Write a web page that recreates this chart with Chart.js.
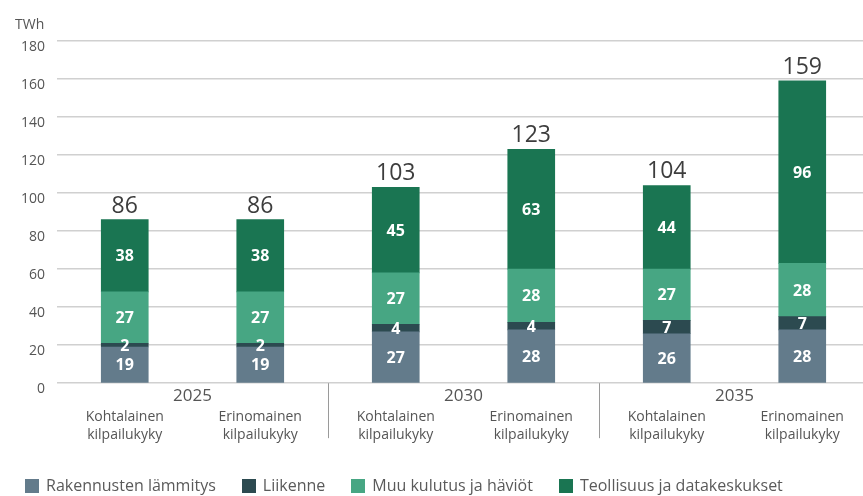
<!DOCTYPE html>
<html>
<head>
<meta charset="utf-8">
<script src="https://cdn.jsdelivr.net/npm/chart.js@4/dist/chart.umd.min.js"></script>
<style>
  body { margin: 0; background: #fff; overflow: hidden; }
  #wrap { width: 863px; height: 496px; position: relative; overflow: hidden; }
  #piirto { width: 870px; height: 496px; position: relative; }
  #selite { position: absolute; left: 25px; top: 474px; font: 16px 'Open Sans', sans-serif; color: #5a5a5a; white-space: nowrap; }
  #selite span.kohta { display: inline-block; margin-right: 26px; }
  #selite i { display: inline-block; width: 14px; height: 14px; vertical-align: -2px; margin-right: 7px; }
</style>
</head>
<body>
<div id="wrap"><div id="piirto"><canvas id="chart"></canvas></div><div id="selite"></div></div>
<script>
// skenaariot vuosittain
var vuodet = ['2025', '2030', '2035']
var skenaariot = [
  ['Kohtalainen', 'kilpailukyky'], ['Erinomainen', 'kilpailukyky'],
  ['Kohtalainen', 'kilpailukyky'], ['Erinomainen', 'kilpailukyky'],
  ['Kohtalainen', 'kilpailukyky'], ['Erinomainen', 'kilpailukyky']
]

var lammitys = [19, 19, 27, 28, 26, 28]
var liikenne = [2, 2, 4, 4, 7, 7]
var muuKulutus = [27, 27, 27, 28, 27, 28]
var teollisuus = [38, 38, 45, 63, 44, 96]
var yhteensa = [86, 86, 103, 123, 104, 159]

var yTicks = [0, 20, 40, 60, 80, 100, 120, 140, 160, 180]

var fontti = "'Open Sans', 'Noto Sans', sans-serif"

// arvot palkkien sisään ja summat päälle
var arvoPlugin = {
  id: 'arvot',
  afterDatasetsDraw: function (chart) {
    var ctx = chart.ctx
    ctx.save()
    ctx.textAlign = 'center'
    ctx.textBaseline = 'middle'
    chart.data.datasets.forEach(function (ds, i) {
      var meta = chart.getDatasetMeta(i)
      meta.data.forEach(function (bar, j) {
        ctx.fillStyle = '#ffffff'
        ctx.font = 'bold 16px ' + fontti
        ctx.fillText(ds.data[j], bar.x, (bar.y + bar.base) / 2 + 1)
      })
    })
    var ylin = chart.getDatasetMeta(chart.data.datasets.length - 1)
    ctx.fillStyle = '#3d3d3d'
    ctx.font = '23px ' + fontti
    ctx.textBaseline = 'alphabetic'
    ylin.data.forEach(function (bar, j) {
      ctx.fillText(yhteensa[j], bar.x, bar.y - 7)
    })
    ctx.restore()
  }
}

// vuosiotsikot ja ryhmien erottimet x-akselille
var ryhmaPlugin = {
  id: 'ryhmat',
  afterDraw: function (chart) {
    var ctx = chart.ctx
    var x = chart.scales.x
    var area = chart.chartArea
    ctx.save()
    ctx.fillStyle = '#555'
    ctx.font = '17px ' + fontti
    ctx.textAlign = 'center'
    ctx.textBaseline = 'middle'
    vuodet.forEach(function (v, k) {
      var a = x.getPixelForValue(k * 2)
      var b = x.getPixelForValue(k * 2 + 1)
      ctx.fillText(v, (a + b) / 2, area.bottom + 13)
    })
    ctx.strokeStyle = '#9a9a9a'
    ctx.lineWidth = 1
    for (var k = 1; k < vuodet.length; k++) {
      var sx = Math.round((x.getPixelForValue(k * 2 - 1) + x.getPixelForValue(k * 2)) / 2) + 0.5
      ctx.beginPath()
      ctx.moveTo(sx, area.bottom)
      ctx.lineTo(sx, area.bottom + 55)
      ctx.stroke()
    }
    ctx.fillStyle = '#555'
    ctx.font = '14px ' + fontti
    ctx.textAlign = 'left'
    ctx.fillText('TWh', 15, 25)
    ctx.restore()
  }
}

var kaavio = new Chart(document.getElementById('chart'), {
  type: 'bar',
  data: {
    labels: skenaariot,
    datasets: [
      { label: 'Rakennusten lämmitys', data: lammitys, backgroundColor: '#637b8b' },
      { label: 'Liikenne', data: liikenne, backgroundColor: '#2c4a50' },
      { label: 'Muu kulutus ja häviöt', data: muuKulutus, backgroundColor: '#47a683' },
      { label: 'Teollisuus ja datakeskukset', data: teollisuus, backgroundColor: '#1a7552' }
    ]
  },
  options: {
    responsive: true,
    maintainAspectRatio: false,
    animation: false,
    layout: { padding: { top: 41, right: 0, left: 0, bottom: 27 } },
    datasets: { bar: { barThickness: 47 } },
    scales: {
      x: {
        stacked: true,
        grid: { display: false, drawTicks: false },
        border: { display: false },
        ticks: { color: '#555', font: { family: fontti, size: 14, lineHeight: 1.28 }, padding: 25, maxRotation: 0 }
      },
      y: {
        stacked: true,
        min: 0,
        max: 180,
        afterBuildTicks: function (axis) {
          axis.ticks = yTicks.map(function (v) { return { value: v } })
        },
        afterFit: function (axis) { axis.width = 57 },
        grid: { color: '#d0d0d0', lineWidth: 1.6, drawTicks: false },
        border: { display: false },
        ticks: { color: '#555', font: { family: fontti, size: 14 }, padding: 12, labelOffset: 6 }
      }
    },
    plugins: {
      legend: { display: false },
      tooltip: { enabled: false }
    }
  },
  plugins: [arvoPlugin, ryhmaPlugin]
})

// selite sarjojen väreistä
var selite = document.getElementById('selite')
kaavio.data.datasets.forEach(function (ds) {
  var s = document.createElement('span')
  s.className = 'kohta'
  var laatikko = document.createElement('i')
  laatikko.style.background = ds.backgroundColor
  s.appendChild(laatikko)
  s.appendChild(document.createTextNode(ds.label))
  selite.appendChild(s)
})
</script>
</body>
</html>
